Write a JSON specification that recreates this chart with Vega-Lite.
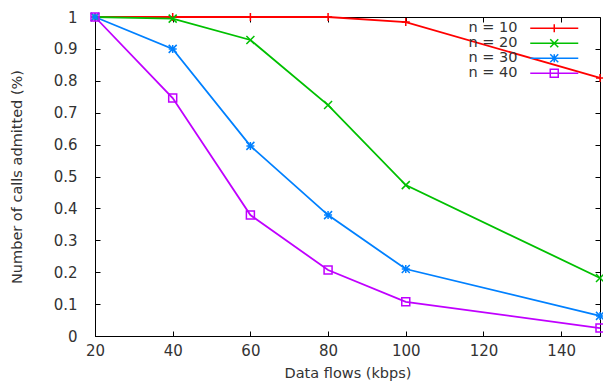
{
  "$schema": "https://vega.github.io/schema/vega-lite/v6.json",
  "width": 505,
  "height": 319,
  "autosize": {"type": "none"},
  "padding": {"left": 95, "top": 17, "right": 3, "bottom": 45},
  "background": "white",
  "config": {
    "font": "DejaVu Sans",
    "view": {"stroke": "#000", "strokeWidth": 1},
    "axis": {
      "grid": false,
      "domainColor": "#000",
      "tickColor": "#000",
      "tickSize": -5,
      "labelColor": "#333",
      "labelFont": "DejaVu Sans",
      "labelFontSize": 15,
      "titleColor": "#333",
      "titleFont": "DejaVu Sans",
      "titleFontSize": 14.5,
      "titleFontWeight": "normal"
    },
    "legend": {
      "title": null, "orient": "none", "legendX": 452, "legendY": 4,
      "padding": 0, "labelFontSize": 14.5, "labelColor": "#333", "labelFont": "DejaVu Sans", "labelAlign": "right",
      "labelOffset": -44, "rowPadding": 0, "symbolSize": 64, "symbolStrokeWidth": 1.5
    }
  },
  "data": {
    "values": [
      {"flow": 20, "series": "n = 10", "admitted": 1.0},
      {"flow": 40, "series": "n = 10", "admitted": 1.0},
      {"flow": 60, "series": "n = 10", "admitted": 1.0},
      {"flow": 80, "series": "n = 10", "admitted": 1.0},
      {"flow": 100, "series": "n = 10", "admitted": 0.984},
      {"flow": 150, "series": "n = 10", "admitted": 0.809},
      {"flow": 20, "series": "n = 20", "admitted": 1.0},
      {"flow": 40, "series": "n = 20", "admitted": 0.995},
      {"flow": 60, "series": "n = 20", "admitted": 0.928},
      {"flow": 80, "series": "n = 20", "admitted": 0.724},
      {"flow": 100, "series": "n = 20", "admitted": 0.473},
      {"flow": 150, "series": "n = 20", "admitted": 0.182},
      {"flow": 20, "series": "n = 30", "admitted": 1.0},
      {"flow": 40, "series": "n = 30", "admitted": 0.9},
      {"flow": 60, "series": "n = 30", "admitted": 0.596},
      {"flow": 80, "series": "n = 30", "admitted": 0.379},
      {"flow": 100, "series": "n = 30", "admitted": 0.21},
      {"flow": 150, "series": "n = 30", "admitted": 0.063},
      {"flow": 20, "series": "n = 40", "admitted": 1.0},
      {"flow": 40, "series": "n = 40", "admitted": 0.746},
      {"flow": 60, "series": "n = 40", "admitted": 0.379},
      {"flow": 80, "series": "n = 40", "admitted": 0.207},
      {"flow": 100, "series": "n = 40", "admitted": 0.107},
      {"flow": 150, "series": "n = 40", "admitted": 0.025}
    ]
  },
  "resolve": {"axis": {"x": "independent", "y": "independent"}},
  "layer": [
    {
      "mark": {"type": "line", "strokeWidth": 1.8, "clip": false},
      "encoding": {
        "x": {
          "field": "flow", "type": "quantitative",
          "scale": {"domain": [20, 150], "nice": false, "zero": false},
          "axis": {"values": [20, 40, 60, 80, 100, 120, 140], "title": "Data flows (kbps)", "labelPadding": 12, "titlePadding": 8, "labelFlush": false}
        },
        "y": {
          "field": "admitted", "type": "quantitative",
          "scale": {"domain": [0, 1], "nice": false},
          "axis": {"values": [0, 0.1, 0.2, 0.3, 0.4, 0.5, 0.6, 0.7, 0.8, 0.9, 1], "format": ".1~f", "title": "Number of calls admitted (%)", "labelPadding": 23, "titlePadding": 29}
        },
        "color": {
          "field": "series", "type": "nominal",
          "scale": {"domain": ["n = 10", "n = 20", "n = 30", "n = 40"], "range": ["#ff0000", "#00c000", "#0080ff", "#c000ff"]},
          "legend": {
            "rowPadding": -1,
            "encoding": {"symbols": {"shape": {"value": {"expr": "datum.value == 'n = 10' ? 'M-6,0H6M0,-1V1' : datum.value == 'n = 20' ? 'M-6,0H6M-1,-1L1,1M-1,1L1,-1' : datum.value == 'n = 30' ? 'M-6,0H6M0,-1V1M-1,-1L1,1M-1,1L1,-1' : 'M-6,0H6M-1,-1H1V1H-1Z'"}}, "fill": {"value": "transparent"}, "strokeWidth": {"value": 1.5}}}
          }
        }
      }
    },
    {
      "mark": {"type": "point", "filled": false, "strokeWidth": 1.5, "size": 64, "opacity": 1, "clip": false},
      "encoding": {
        "x": {"field": "flow", "type": "quantitative", "axis": null},
        "y": {"field": "admitted", "type": "quantitative", "axis": null},
        "color": {
          "field": "series", "type": "nominal",
          "legend": {
            "rowPadding": -1,
            "encoding": {"symbols": {"shape": {"value": {"expr": "datum.value == 'n = 10' ? 'M-6,0H6M0,-1V1' : datum.value == 'n = 20' ? 'M-6,0H6M-1,-1L1,1M-1,1L1,-1' : datum.value == 'n = 30' ? 'M-6,0H6M0,-1V1M-1,-1L1,1M-1,1L1,-1' : 'M-6,0H6M-1,-1H1V1H-1Z'"}}, "fill": {"value": "transparent"}, "strokeWidth": {"value": 1.5}}}
          }
        },
        "shape": {
          "field": "series", "type": "nominal",
          "scale": {"range": ["M-1,0H1M0,-1V1", "M-1,-1L1,1M-1,1L1,-1", "M-1,0H1M0,-1V1M-1,-1L1,1M-1,1L1,-1", "M-1,-1H1V1H-1Z"]},
          "legend": null
        }
      }
    },
    {
      "mark": {"type": "point", "opacity": 0},
      "encoding": {
        "x": {"field": "flow", "type": "quantitative", "axis": {"orient": "top", "values": [20, 40, 60, 80, 100, 120, 140], "labels": false, "domain": false, "title": null}},
        "y": {"field": "admitted", "type": "quantitative", "axis": {"orient": "right", "values": [0, 0.1, 0.2, 0.3, 0.4, 0.5, 0.6, 0.7, 0.8, 0.9, 1], "labels": false, "domain": false, "title": null}}
      }
    }
  ]
}
